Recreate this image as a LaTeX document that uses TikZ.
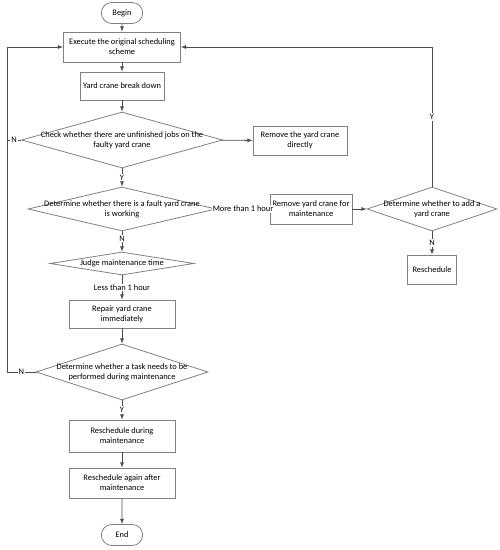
\documentclass[tikz,border=0pt]{standalone}
\usepackage{fontspec}
\setmainfont{Carlito}
\usetikzlibrary{shapes.geometric,shapes.misc}

\begin{document}
\begin{tikzpicture}[x=1pt, y=-1pt, font=\fontsize{8.4}{10}\selectfont,
	box/.style={rectangle, draw=gray, line width=0.8pt, align=center, inner sep=1pt, minimum height=29},
	term/.style={rounded rectangle, draw=gray, line width=0.8pt, minimum width=48, minimum height=21},
	decision/.style={diamond, draw=gray, line width=0.8pt, inner sep=0pt},
	every label/.style={align=center},
	line/.style={-latex, line width=0.8pt, draw=black!70},
	tag/.style={fill=white, inner sep=1pt}]

	\useasboundingbox (0, 0) rectangle (500, 550);

	\node (begin) [term] at (122, 13) {Begin};
	\node (exec) [box, minimum width=117, minimum height=30] at (122, 47) {Execute the original scheduling\\scheme};
	\node (brk) [box, minimum width=84, minimum height=28] at (122, 86) {Yard crane break down};
	\node (chk) [decision, minimum width=201, minimum height=56, label=center:{Check whether there are unfinished jobs on the\\faulty yard crane}] at (122, 140) {};
	\node (rmv) [box, minimum width=94] at (300, 140.5) {Remove the yard crane\\directly};
	\node (wrk) [decision, minimum width=188, minimum height=44, label=center:{Determine whether there is a fault yard crane\\is working}] at (122, 209) {};
	\node (rmvm) [box, minimum width=82, minimum height=30] at (311, 209) {Remove yard crane for\\maintenance};
	\node (add) [decision, minimum width=130, minimum height=44, label=center:{Determine whether to add a\\yard crane}] at (432, 209) {};
	\node (resch) [box, minimum width=49] at (432, 269.5) {Reschedule};
	\node (judge) [decision, minimum width=144, minimum height=23, label=center:{Judge maintenance time}] at (122, 263.5) {};
	\node (rep) [box, minimum width=106, minimum height=28] at (122, 314) {Repair yard crane\\immediately};
	\node (task) [decision, minimum width=172, minimum height=56, label=center:{Determine whether a task needs to be\\performed during maintenance}] at (122, 372) {};
	\node (during) [box, minimum width=106, minimum height=32] at (122, 436) {Reschedule during\\maintenance};
	\node (after) [box, minimum width=106, minimum height=30] at (122, 483) {Reschedule again after\\maintenance};
	\node (end) [term] at (122, 535) {End};

	\coordinate (lft) at (7, 47);
	\coordinate (rgt) at (432, 47);

	\path
	(begin) edge[line] (exec)
	(exec) edge[line] (brk)
	(brk) edge[line] (chk)
	(chk) edge[line] (rmv)
	(chk) edge[line] node[tag] {Y} (wrk)
	(wrk) edge[line] node[tag, pos=0.35] {N} (judge)
	(wrk) edge[line] node[tag] {More than 1 hour} (rmvm)
	(rmvm) edge[line] (add)
	(add) edge[line] node[tag] {N} (resch)
	(judge) edge[line] node[tag] {Less than 1 hour} (rep)
	(rep) edge[line] (task)
	(task) edge[line] node[tag] {Y} (during)
	(during) edge[line] (after)
	(after) edge[line] (end);

	\draw[line, -] (chk.west) -- node[tag] {N} (chk.west -| lft);
	\draw[line] (task.west) -- node[tag] {N} (task.west -| lft) |- (exec.west);
	\draw[line] (add.north) -- node[tag] {Y} (rgt) -- (exec.east);

\end{tikzpicture}
\end{document}
